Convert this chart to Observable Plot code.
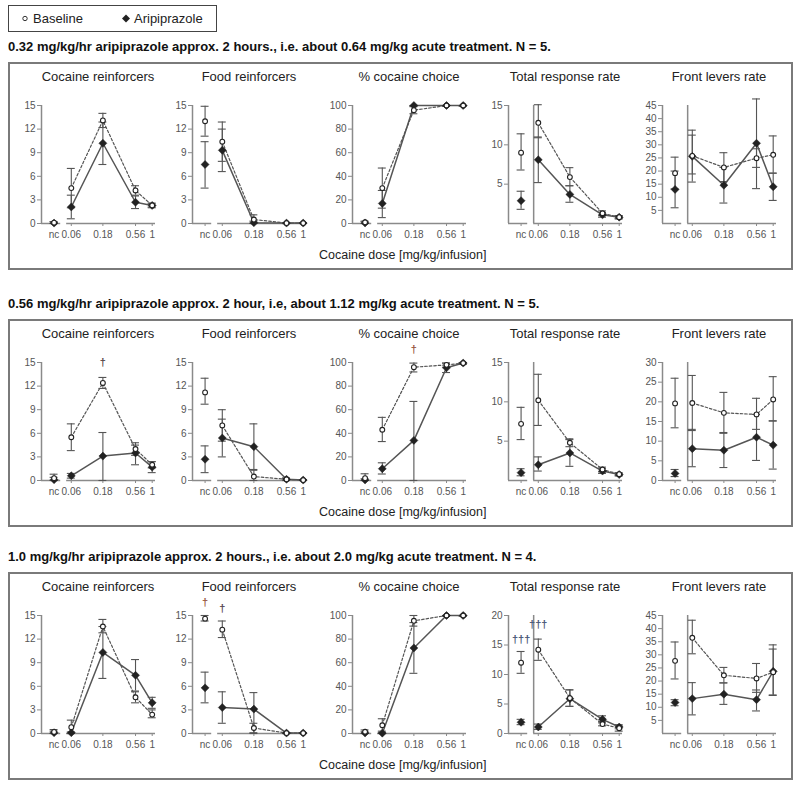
<!DOCTYPE html>
<html><head><meta charset="utf-8">
<script src="https://cdn.jsdelivr.net/npm/d3@7"></script>
<script src="https://cdn.jsdelivr.net/npm/@observablehq/plot@0.6"></script>
<style>
body{margin:0;background:#fff;font-family:"Liberation Sans",Arial,Helvetica,sans-serif;}
#root{position:relative;width:800px;height:787px;overflow:hidden;}
.box{position:absolute;border:2px solid #7a7a7a;box-sizing:border-box;}
.legend{position:absolute;left:8px;top:5px;width:209px;height:27px;border:1.5px solid #444;box-sizing:border-box;font-size:13px;color:#222;}
.legend span{position:absolute;top:5px;}
.legend svg{position:absolute;top:0;left:0;}
.rowtitle{position:absolute;left:8px;font-weight:bold;font-size:13px;color:#111;white-space:nowrap;line-height:16px;}
.ptitle{position:absolute;font-size:13px;color:#222;white-space:nowrap;transform:translateX(-50%);line-height:16px;}
.xlabel{position:absolute;font-size:12.5px;color:#222;white-space:nowrap;line-height:16px;}
.panel{position:absolute;}
.panel svg{overflow:visible;}
</style></head>
<body><div id="root"></div>
<script>
// ---------- categories / labels ----------
const doseLabels = ["nc", "0.06", "0.18", "0.56", "1"];
const doseValues = [null, 0.06, 0.18, 0.56, 1];
const seriesNames = ["Baseline", "Aripiprazole"];
const panelTitles = ["Cocaine reinforcers", "Food reinforcers", "% cocaine choice", "Total response rate", "Front levers rate"];
const rowTitles = [
  "0.32 mg/kg/hr aripiprazole approx. 2 hours., i.e. about 0.64 mg/kg acute treatment. N = 5.",
  "0.56 mg/kg/hr aripiprazole approx. 2 hour, i.e, about 1.12 mg/kg acute treatment. N = 5.",
  "1.0 mg/kg/hr aripiprazole approx. 2 hours., i.e. about 2.0 mg/kg acute treatment. N = 4."
];
const xAxisLabel = "Cocaine dose [mg/kg/infusion]";

// ---------- tick labels ----------
const ticksReinf = [0, 3, 6, 9, 12, 15];
const ticksPct = [0, 20, 40, 60, 80, 100];
const r1TotalTicks = [5, 10, 15];
const r1FrontTicks = [5, 10, 15, 20, 25, 30, 35, 40, 45];
const r2TotalTicks = [5, 10, 15];
const r2FrontTicks = [0, 5, 10, 15, 20, 25, 30];
const r3TotalTicks = [0, 5, 10, 15, 20];
const r3FrontTicks = [5, 10, 15, 20, 25, 30, 35, 40, 45];

// ---------- values: [mean, lower, upper] per dose (nc, 0.06, 0.18, 0.56, 1) ----------
// Row 1: 0.32 mg/kg/hr
const r1CocBase  = [[0.1,0,0.25],[4.5,2.0,7.0],[13.1,12.2,14.0],[4.2,3.6,4.8],[2.3,2.0,2.6]];
const r1CocArip  = [[0.05,0,0.2],[2.1,0.6,3.6],[10.2,7.5,12.9],[2.7,1.9,3.5],[2.3,2.1,2.5]];
const r1FoodBase = [[13.0,11.1,14.9],[10.4,7.9,12.9],[0.5,0,1.1],[0.05,0,0.1],[0.05,0,0.1]];
const r1FoodArip = [[7.5,4.5,10.4],[9.3,6.6,12.0],[0.1,0,0.3],[0.05,0,0.1],[0.05,0,0.1]];
const r1PctBase  = [[1.0,0,2.0],[30,13,47],[96,93,99],[100,99.5,100],[100,99.5,100]];
const r1PctArip  = [[0.5,0,1.5],[17,5,28],[100,99.5,100],[100,99.5,100],[100,99.5,100]];
const r1TotBase  = [[9.0,6.8,11.4],[12.8,10.9,15.1],[5.9,4.8,7.1],[1.3,1.0,1.6],[0.8,0.6,1.0]];
const r1TotArip  = [[2.9,1.8,4.1],[8.1,5.2,11.0],[3.7,2.7,4.8],[1.1,0.8,1.4],[0.8,0.6,1.0]];
const r1FrontBase= [[19.2,13.2,25.3],[25.8,18.9,33.7],[21.4,16.0,27.0],[24.9,21.4,28.5],[26.2,19.2,33.4]];
const r1FrontArip= [[13.0,6.0,20.0],[25.6,15.8,35.6],[14.6,7.8,21.4],[30.6,13.3,47.5],[14.0,8.8,19.2]];
// Row 2: 0.56 mg/kg/hr
const r2CocBase  = [[0.3,0,0.8],[5.5,3.8,7.2],[12.4,11.7,13.1],[4.0,3.2,4.8],[2.0,1.6,2.4]];
const r2CocArip  = [[0.1,0,0.4],[0.6,0.3,0.9],[3.1,0,6.1],[3.5,2.0,4.5],[1.7,1.0,2.4]];
const r2FoodBase = [[11.2,9.7,13.0],[7.0,5.0,9.0],[0.5,0,1.3],[0.15,0,0.3],[0.05,0,0.1]];
const r2FoodArip = [[2.7,1.0,4.4],[5.4,3.0,7.8],[4.3,1.4,7.2],[0.15,0,0.3],[0.05,0,0.1]];
const r2PctBase  = [[2,0,5.7],[43,33,53.5],[96,92,99.5],[98,96,99.5],[99.5,98.5,100]];
const r2PctArip  = [[0.5,0,1.5],[10,5.5,15],[34,0,67],[95.5,91.5,99.5],[99.5,98.5,100]];
const r2TotBase  = [[7.2,5.2,9.3],[10.2,7.0,13.5],[4.8,4.3,5.3],[1.4,1.1,1.7],[0.8,0.6,1.0]];
const r2TotArip  = [[1.0,0.6,1.5],[2.0,1.2,3.0],[3.5,1.8,5.2],[1.2,0.9,1.5],[0.75,0.6,0.9]];
const r2FrontBase= [[19.6,13.4,26.0],[19.7,12.7,26.7],[17.2,12.0,22.4],[16.8,13.0,20.9],[20.6,15.1,26.4]];
const r2FrontArip= [[1.8,1.0,2.8],[8.1,3.5,13.0],[7.7,3.3,12.2],[11.0,5.1,16.8],[9.0,2.9,15.2]];
// Row 3: 1.0 mg/kg/hr
const r3CocBase  = [[0.2,0,0.5],[0.8,0,1.7],[13.6,12.8,14.5],[4.6,3.9,5.3],[2.4,2.0,3.0]];
const r3CocArip  = [[0.1,0,0.3],[0.1,0,0.2],[10.3,7.0,13.6],[7.4,5.4,9.4],[3.9,3.2,4.6]];
const r3FoodBase = [[14.6,14.3,15.0],[13.2,12.2,14.3],[0.7,0.1,1.3],[0.05,0,0.1],[0.05,0,0.1]];
const r3FoodArip = [[5.8,3.9,7.8],[3.3,1.3,5.3],[3.1,0,5.2],[0.05,0,0.1],[0.05,0,0.1]];
const r3PctBase  = [[1.5,0,3],[7,2,12.5],[95.5,91,100],[100,99.5,100],[100,99.5,100]];
const r3PctArip  = [[0.5,0,1.5],[0.3,0,1],[72.5,51,94],[100,99.5,100],[100,99.5,100]];
const r3TotBase  = [[12.0,10.2,13.9],[14.2,12.4,16.0],[6.0,4.6,7.4],[1.6,1.3,2.0],[0.9,0.4,1.3]];
const r3TotArip  = [[1.9,1.5,2.4],[1.1,0.7,1.6],[5.9,4.6,7.4],[2.4,1.8,3.0],[1.1,0.8,1.5]];
const r3FrontBase= [[27.7,20.8,34.9],[36.5,30.4,43.2],[22.2,19.3,25.2],[21.0,15.7,26.7],[23.4,14.5,33.8]];
const r3FrontArip= [[11.8,10.6,12.9],[13.3,7.1,19.4],[15.0,11.1,19.3],[12.9,8.6,16.6],[23.7,14.7,32.2]];

// significance markers: [row, panel, dose index, y value, label, colour]
const daggers = [
  [1, 0, 2, 15.0, "†", "#5a4a4a"],
  [1, 2, 2, 111, "†", "#9a5a44"],
  [2, 1, 0, 16.6, "†", "#9a5a44"],
  [2, 1, 1, 15.9, "†", "#5a4a55"],
  [2, 3, 0, 15.9, "†††", "#4a5878"],
  [2, 3, 1, 18.5, "†††", "#4a5878"]
];

// ---------- layout ----------
const rowTops = [62, 319, 572];
const panelLefts = [11, 162, 322, 478, 632];
const ML = 30, MR = 6, MT = 12, MB = 20, PH = 118;
const NC_GAP = 0.26, AXIS_GAP = 0.19;

const logDose = doseValues.map((v, i) => i === 0 ? Math.log10(doseValues[1]) - NC_GAP : Math.log10(v));
const xDomain = [logDose[0] - AXIS_GAP, 0.05];
const PW = ML + MR + Math.round((xDomain[1] - xDomain[0]) * 66);

const panels = [
  [[r1CocBase, r1CocArip, ticksReinf, false], [r1FoodBase, r1FoodArip, ticksReinf, false], [r1PctBase, r1PctArip, ticksPct, false], [r1TotBase, r1TotArip, r1TotalTicks, true], [r1FrontBase, r1FrontArip, r1FrontTicks, true]],
  [[r2CocBase, r2CocArip, ticksReinf, false], [r2FoodBase, r2FoodArip, ticksReinf, false], [r2PctBase, r2PctArip, ticksPct, false], [r2TotBase, r2TotArip, r2TotalTicks, true], [r2FrontBase, r2FrontArip, r2FrontTicks, true]],
  [[r3CocBase, r3CocArip, ticksReinf, false], [r3FoodBase, r3FoodArip, ticksReinf, false], [r3PctBase, r3PctArip, ticksPct, false], [r3TotBase, r3TotArip, r3TotalTicks, true], [r3FrontBase, r3FrontArip, r3FrontTicks, true]]
];

function makePanel(base, arip, yTicks, broken, marks2) {
  const rows = [];
  [base, arip].forEach((ser, si) => ser.forEach((d, i) => rows.push({s: seriesNames[si], i, x: logDose[i], y: d[0], lo: d[1], hi: d[2]})));
  const yTop = yTicks[yTicks.length - 1];
  const cap = 0.06;
  const seg2 = logDose[1] - 0.07;
  const axisSegs = [{x1: xDomain[0], x2: logDose[0] + 0.1}, {x1: seg2, x2: xDomain[1]}];
  const lineRows = rows.filter(d => d.i > 0);
  const gray = "#8a8a8a";
  const marks = [
    Plot.ruleX([xDomain[0]], {y1: 0, y2: yTop, stroke: gray, strokeWidth: 1.5}),
    broken ? Plot.ruleX([seg2], {y1: 0, y2: yTop, stroke: gray, strokeWidth: 1.5}) : null,
    Plot.ruleY(axisSegs, {y: 0, x1: "x1", x2: "x2", stroke: gray, strokeWidth: 1.5}),
    Plot.axisY({ticks: yTicks, tickSize: 4, tickPadding: 2, stroke: gray, fill: "#555", fontSize: 10, label: null}),
    Plot.axisX({ticks: logDose, tickSize: 3, tickPadding: 4, stroke: gray, fill: "#555", fontSize: 10, label: null,
      tickFormat: d => doseLabels[logDose.findIndex(v => Math.abs(v - d) < 1e-9)]}),
    // error bars
    Plot.ruleX(rows, {x: "x", y1: "lo", y2: "hi", stroke: "#555", strokeWidth: 1.1}),
    Plot.ruleY(rows, {y: "lo", x1: d => d.x - cap, x2: d => d.x + cap, stroke: "#555", strokeWidth: 1.1}),
    Plot.ruleY(rows, {y: "hi", x1: d => d.x - cap, x2: d => d.x + cap, stroke: "#555", strokeWidth: 1.1}),
    // lines
    Plot.line(lineRows.filter(d => d.s === "Aripiprazole"), {x: "x", y: "y", stroke: "#555", strokeWidth: 1.5}),
    Plot.line(lineRows.filter(d => d.s === "Baseline"), {x: "x", y: "y", stroke: "#555", strokeWidth: 1.2, strokeDasharray: "2.5,2"}),
    // points
    Plot.dot(rows.filter(d => d.s === "Aripiprazole"), {x: "x", y: "y", symbol: "diamond2", r: 3.6, fill: "#222", stroke: "#222", strokeWidth: 0.5}),
    Plot.dot(rows.filter(d => d.s === "Baseline"), {x: "x", y: "y", r: 2.4, fill: "white", stroke: "#222", strokeWidth: 1.1}),
    marks2.length ? Plot.text(marks2, {x: d => logDose[d[2]], y: d => d[3], text: d => d[4], fill: d => d[5], fontSize: 11, fontWeight: "bold"}) : null
  ];
  return Plot.plot({
    width: PW, height: MT + PH + MB,
    marginLeft: ML, marginRight: MR, marginTop: MT, marginBottom: MB,
    x: {domain: xDomain},
    y: {domain: [0, yTop]},
    style: {fontFamily: '"Liberation Sans", Arial, sans-serif', fontSize: "10px", color: "#555", background: "transparent", overflow: "visible"},
    marks
  });
}

const root = document.getElementById("root");
function addDiv(cls, text, css) {
  const d = document.createElement("div");
  d.className = cls;
  if (text != null) d.textContent = text;
  Object.assign(d.style, css);
  root.appendChild(d);
  return d;
}

// legend
const lg = addDiv("legend", null, {});
lg.innerHTML = `<svg width="209" height="27"><circle cx="16" cy="12.5" r="2.2" fill="white" stroke="#333" stroke-width="1"/><path d="M117,8.5 L121,12.5 L117,16.5 L113,12.5Z" fill="#222"/></svg><span style="left:24px">${seriesNames[0]}</span><span style="left:125px">${seriesNames[1]}</span>`;

rowTops.forEach((T, r) => {
  addDiv("rowtitle", rowTitles[r], {top: (T - 23) + "px"});
  addDiv("box", null, {left: "8px", top: T + "px", width: "785px", height: "208px"});
  panels[r].forEach((p, k) => {
    const cx = panelLefts[k] + ML + (PW - ML - MR) / 2;
    addDiv("ptitle", panelTitles[k], {left: cx + "px", top: (T + 7) + "px"});
    const holder = addDiv("panel", null, {left: panelLefts[k] + "px", top: (T + 43 - MT) + "px"});
    const dg = daggers.filter(d => d[0] === r && d[1] === k);
    holder.appendChild(makePanel(p[0], p[1], p[2], p[3], dg));
  });
  addDiv("xlabel", xAxisLabel, {left: "319px", top: (T + 185) + "px"});
});
</script>
</body></html>
